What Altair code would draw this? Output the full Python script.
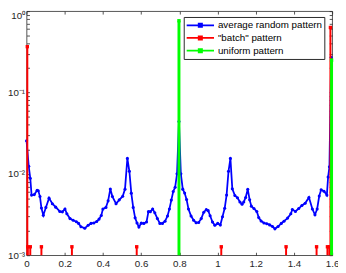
import altair as alt
import pandas as pd

series_names = ["average random pattern", "\"batch\" pattern", "uniform pattern"]
series_colors = ["#0000ff", "#ff0000", "#00ff00"]

avg_x = [0.0, 0.0115, 0.0195, 0.0264, 0.0404, 0.0554, 0.0614, 0.0704, 0.0778, 0.0878,
         0.1013, 0.1178, 0.1352, 0.1527, 0.1742, 0.1876, 0.2011, 0.2111, 0.2275, 0.2440,
         0.2610, 0.2725, 0.2849, 0.3049, 0.3224, 0.3373, 0.3523, 0.3673, 0.3797, 0.3912,
         0.3997, 0.4157, 0.4271, 0.4386, 0.4496, 0.4686, 0.4855, 0.5035, 0.5155, 0.5279,
         0.5384, 0.5484, 0.5584, 0.5684, 0.5783, 0.5883, 0.6008, 0.6143, 0.6282, 0.6382,
         0.6482, 0.6602, 0.6717, 0.6851, 0.6981, 0.7116, 0.7251, 0.7380, 0.7480, 0.7580,
         0.7680, 0.7780, 0.7879, 0.7979, 0.8079, 0.8179, 0.8278, 0.8378, 0.8478, 0.8613,
         0.8748, 0.8877, 0.9012, 0.9147, 0.9277, 0.9411, 0.9511, 0.9611, 0.9736, 0.9860,
         1.0010, 1.0145, 1.0259, 1.0374, 1.0474, 1.0574, 1.0674, 1.0773, 1.0908, 1.1043,
         1.1173, 1.1283, 1.1372, 1.1472, 1.1582, 1.1682, 1.1771, 1.1906, 1.2056, 1.2156,
         1.2281, 1.2430, 1.2580, 1.2730, 1.2879, 1.3004, 1.3169, 1.3338, 1.3478, 1.3668,
         1.3837, 1.3917, 1.4077, 1.4251, 1.4416, 1.4586, 1.4785, 1.4965, 1.5100, 1.5215,
         1.5324, 1.5424, 1.5574, 1.5724, 1.5788, 1.5858, 1.5948]
avg_y = [0.0255, 0.0124, 0.00883, 0.00548, 0.00556, 0.00628, 0.00619, 0.00526, 0.00380, 0.00310,
         0.00387, 0.00503, 0.00430, 0.00390, 0.00345, 0.00341, 0.00370, 0.00323, 0.00282, 0.00269,
         0.00258, 0.00246, 0.00224, 0.00215, 0.00233, 0.00246, 0.00249, 0.00260, 0.00278, 0.00308,
         0.00370, 0.00387, 0.00466, 0.00651, 0.00526, 0.00430, 0.00479, 0.00531, 0.00649, 0.01549,
         0.01076, 0.00579, 0.00387, 0.00288, 0.00249, 0.00222, 0.00248, 0.00246, 0.00256, 0.00343,
         0.00343, 0.00370, 0.00332, 0.00282, 0.00246, 0.00246, 0.00262, 0.00303, 0.00370, 0.00476,
         0.00608, 0.00686, 0.01003, 0.04388, 0.01003, 0.00649, 0.00582, 0.00485, 0.00370, 0.00303,
         0.00269, 0.00251, 0.00253, 0.00282, 0.00338, 0.00363, 0.00353, 0.00306, 0.00256, 0.00233,
         0.00246, 0.00235, 0.00297, 0.00377, 0.00548, 0.01076, 0.01549, 0.00654, 0.00541, 0.00508,
         0.00451, 0.00424, 0.00451, 0.00513, 0.00646, 0.00479, 0.00401, 0.00375, 0.00345, 0.00290,
         0.00263, 0.00249, 0.00244, 0.00236, 0.00225, 0.00211, 0.00225, 0.00246, 0.00262, 0.00286,
         0.00323, 0.00365, 0.00345, 0.00375, 0.00409, 0.00435, 0.00513, 0.00370, 0.00314, 0.00370,
         0.00534, 0.00637, 0.00611, 0.00548, 0.00914, 0.01223, 0.2713]

batch_x = [0.004, 0.0065, 0.0195, 0.0778, 0.2375, 0.5768, 1.0195, 1.3588, 1.5185, 1.5754, 1.5853, 1.591]
batch_y = [0.366, 0.00127, 0.00127, 0.00127, 0.00127, 0.00127, 0.00127, 0.00127, 0.00127, 0.00127, 0.00127, 0.630]

uni_x = [0.798, 1.597]
uni_y = [0.762, 0.250]

x_ticks = [0, 0.2, 0.4, 0.6, 0.8, 1.0, 1.2, 1.4, 1.6]
y_major = [0.001, 0.01, 0.1, 1]
y_all = [0.001, 0.002, 0.003, 0.004, 0.005, 0.006, 0.007, 0.008, 0.009,
         0.01, 0.02, 0.03, 0.04, 0.05, 0.06, 0.07, 0.08, 0.09,
         0.1, 0.2, 0.3, 0.4, 0.5, 0.6, 0.7, 0.8, 0.9, 1]
y_floor = 0.001

avg_df = pd.DataFrame({"x": avg_x, "v": avg_y, "series": series_names[0]})
batch_df = pd.DataFrame({"x": batch_x, "v": batch_y, "series": series_names[1]})
uni_df = pd.DataFrame({"x": uni_x, "v": uni_y, "series": series_names[2]})

FONT = "Liberation Sans"
AX = "#262626"

xscale = alt.Scale(domain=[0, 1.6], nice=False, zero=False)
yscale = alt.Scale(type="log", domain=[0.001, 1], nice=False)

lab_x = alt.Axis(values=x_ticks, format="~g", title=None, ticks=False, domain=False, grid=False,
                 labelFont=FONT, labelFontSize=10, labelColor=AX, labelPadding=4,
                 labelFlush=False, labelOverlap=False, orient="bottom")
lab_y = alt.Axis(values=y_major, title=None, ticks=False, domain=False, grid=False,
                 labelExpr="datum.value >= 0.99 ? '10⁰' : datum.value >= 0.099 ? '10⁻¹' : datum.value >= 0.0099 ? '10⁻²' : '10⁻³'",
                 labelFont=FONT, labelFontSize=10, labelColor=AX, labelPadding=2,
                 labelFlush=False, labelOverlap=False, orient="left",
                 labelBaseline={"condition": {"test": "datum.value >= 0.99", "value": "top"}, "value": "middle"})

def tick_axis(orient, values):
    return alt.Axis(values=values, orient=orient, offset=-3, tickSize=3, tickColor=AX,
                    tickWidth=0.8, labels=False, domain=False, grid=False, title=None)

blue_line = alt.Chart(avg_df).mark_line(strokeWidth=1.8).encode(
    x=alt.X("x:Q", scale=xscale, axis=lab_x),
    y=alt.Y("v:Q", scale=yscale, axis=lab_y),
    color=alt.Color("series:N", scale=alt.Scale(domain=series_names, range=series_colors),
                    legend=alt.Legend(orient="none", legendX=161, legendY=6, title=None,
                                      fillColor="white", strokeColor=AX, padding=2,
                                      labelFont=FONT, labelFontSize=10, labelColor="black",
                                      symbolType="M-1,0H1M-0.12,-0.12H0.12V0.12H-0.12Z",
                                      symbolSize=784, symbolStrokeWidth=1.8, clipHeight=13,
                                      rowPadding=0, labelOffset=3, labelLimit=250)),
)
blue_pts = alt.Chart(avg_df).mark_point(filled=True, size=10, opacity=1, color=series_colors[0]).encode(
    x=alt.X("x:Q", scale=xscale, axis=tick_axis("bottom", x_ticks)),
    y=alt.Y("v:Q", scale=yscale, axis=tick_axis("left", y_all)),
)
red_rule = alt.Chart(batch_df).mark_rule(strokeWidth=2, color=series_colors[1]).encode(
    x=alt.X("x:Q", scale=xscale, axis=tick_axis("top", x_ticks)),
    y=alt.Y("v:Q", scale=yscale, axis=tick_axis("right", y_all)),
    y2=alt.datum(y_floor),
)
red_pts = alt.Chart(batch_df).mark_square(size=12, opacity=1, color=series_colors[1]).encode(
    x=alt.X("x:Q", scale=xscale, axis=None),
    y=alt.Y("v:Q", scale=yscale, axis=None),
)
green_rule = alt.Chart(uni_df).mark_rule(strokeWidth=3, color=series_colors[2]).encode(
    x=alt.X("x:Q", scale=xscale, axis=None),
    y=alt.Y("v:Q", scale=yscale, axis=None),
    y2=alt.datum(y_floor),
)
green_pts = alt.Chart(uni_df).mark_square(size=12, opacity=1, color=series_colors[2]).encode(
    x=alt.X("x:Q", scale=xscale, axis=None),
    y=alt.Y("v:Q", scale=yscale, axis=None),
)

chart = alt.layer(blue_line, blue_pts, red_rule, red_pts, green_rule, green_pts).resolve_axis(
    x="independent", y="independent"
).properties(
    width=313, height=250,
    autosize=alt.AutoSizeParams(type="none"),
    padding={"left": 19, "top": 0, "right": 6, "bottom": 15},
).configure_view(stroke=AX, strokeWidth=0.8)

chart.save("out.html", embed_options={"renderer": "svg", "actions": False})
